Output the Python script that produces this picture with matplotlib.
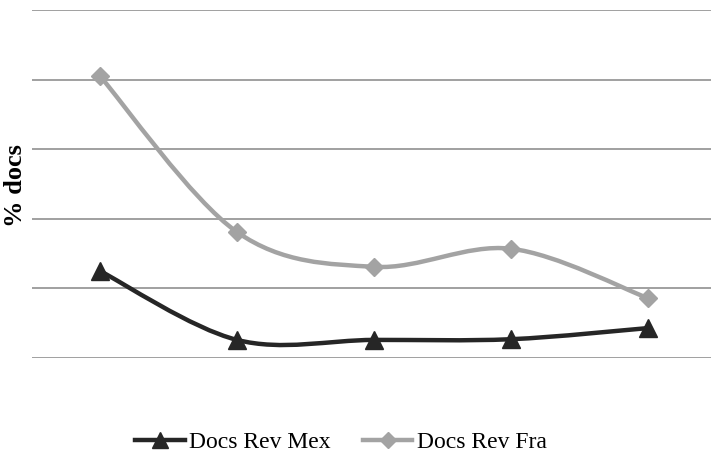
import matplotlib
matplotlib.use('Agg')
import matplotlib.pyplot as plt
from matplotlib.path import Path
from matplotlib.patches import PathPatch
from matplotlib.lines import Line2D

categories = [1, 2, 3, 4, 5]
docs_rev_mex = [1.25, 0.26, 0.26, 0.27, 0.43]
docs_rev_fra = [4.05, 1.81, 1.31, 1.57, 0.86]


def smooth_path(x, y, t=1.0 / 6):
    # Catmull-Rom style bezier segments through the data points
    verts = [(x[0], y[0])]
    codes = [Path.MOVETO]
    n = len(x)
    for i in range(n - 1):
        x0, y0 = (x[i - 1], y[i - 1]) if i > 0 else (x[i], y[i])
        x3, y3 = (x[i + 2], y[i + 2]) if i + 2 < n else (x[i + 1], y[i + 1])
        c1 = (x[i] + (x[i + 1] - x0) * t, y[i] + (y[i + 1] - y0) * t)
        c2 = (x[i + 1] - (x3 - x[i]) * t, y[i + 1] - (y3 - y[i]) * t)
        verts += [c1, c2, (x[i + 1], y[i + 1])]
        codes += [Path.CURVE4] * 3
    return Path(verts, codes)


fig = plt.figure(figsize=(7.11, 4.55), dpi=100)
ax = fig.add_axes([31.5 / 711, 97 / 455, 685 / 711, 348 / 455])

mex_color = '#262626'
fra_color = '#a3a3a3'

ax.add_patch(PathPatch(smooth_path(categories, docs_rev_fra), facecolor='none',
                       edgecolor=fra_color, lw=3.2, capstyle='round', zorder=3))
ax.add_patch(PathPatch(smooth_path(categories, docs_rev_mex), facecolor='none',
                       edgecolor=mex_color, lw=3.2, capstyle='round', zorder=3))
ax.plot(categories, docs_rev_fra, linestyle='none', marker='D', markersize=9,
        color=fra_color, zorder=4)
ax.plot(categories, docs_rev_mex, linestyle='none', marker='^', markersize=13,
        color=mex_color, zorder=4)

ax.set_xlim(0.5, 5.5)
ax.set_ylim(0, 5)
ax.set_yticks([0, 1, 2, 3, 4, 5])
ax.set_xticks([])
ax.tick_params(axis='y', length=0, labelleft=False)
ax.grid(axis='y', color='#a0a0a0', lw=1.4)
ax.set_axisbelow(True)
for s in ax.spines.values():
    s.set_visible(False)

fig.text(15 / 711, 1 - 186 / 455, '% docs', rotation=90, ha='center', va='center',
         fontsize=19, fontweight='bold', family='Liberation Serif')

handles = [
    Line2D([], [], color=mex_color, lw=3.2, marker='^', markersize=11),
    Line2D([], [], color=fra_color, lw=3.2, marker='D', markersize=8),
]
fig.legend(handles, ['Docs Rev Mex', 'Docs Rev Fra'], loc='center',
           bbox_to_anchor=(341 / 711, 1 - 442 / 455), ncol=2, frameon=False,
           prop={'family': 'Liberation Serif', 'size': 17},
           handlelength=2.1, handletextpad=0.2, columnspacing=1.35)

fig.savefig('out.png', dpi=100)
